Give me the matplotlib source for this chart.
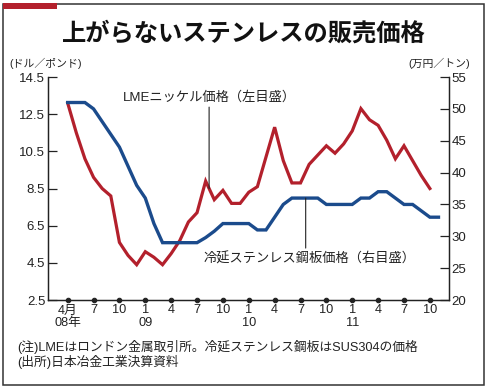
import numpy as np
import matplotlib
matplotlib.use('Agg')
import matplotlib.pyplot as plt
from matplotlib.patches import Rectangle

# ---- data (monthly, Apr 2008 = month 0) ----
nickel = [13.1, 11.5, 10.1, 9.1, 8.5, 8.1, 5.6, 4.9, 4.4, 5.1, 4.8, 4.4,
          5.0, 5.7, 6.7, 7.2, 8.9, 7.9, 8.4, 7.7, 7.7, 8.3, 8.6, 10.2,
          11.8, 10.0, 8.8, 8.8, 9.8, 10.3, 10.8, 10.4, 10.9, 11.6, 12.8, 12.2,
          11.9, 11.1, 10.1, 10.8, 10.0, 9.2, 8.5]
steel = [51, 51, 51, 50, 48, 46, 44, 41, 38, 36, 32, 29,
         29, 29, 29, 29, 29.8, 30.8, 32, 32, 32, 32, 31, 31,
         33, 35, 36, 36, 36, 36, 35, 35, 35, 35, 36, 36,
         37, 37, 36, 35, 35, 34, 33, 33]
tick_months = list(range(0, 43, 3))
tick_labels = ['4月\n08年', '7', '10', '1\n09', '4', '7', '10', '1\n10',
               '4', '7', '10', '1\n11', '4', '7', '10']
left_ticks = [2.5, 4.5, 6.5, 8.5, 10.5, 12.5, 14.5]
right_ticks = [20, 25, 30, 35, 40, 45, 50, 55]

title = '上がらないステンレスの販売価格'
nickel_label = 'LMEニッケル価格（左目盛）'
steel_label = '冷延ステンレス鋼板価格（右目盛）'
left_unit = '(ドル／ポンド)'
right_unit = '(万円／トン)'
note1 = '(注)LMEはロンドン金属取引所。冷延ステンレス鋼板はSUS304の価格'
note2 = '(出所)日本冶金工業決算資料'

RED = '#b3202c'
BLUE = '#1b4b8c'
DARK = '#222222'

plt.rcParams['font.family'] = ['Liberation Sans', 'Noto Sans CJK JP']

fig = plt.figure(figsize=(4.9, 3.91), dpi=100)
ax = fig.add_axes([0.098, 0.2327, 0.818, 0.5703])
ax2 = ax.twinx()

m_n = np.arange(len(nickel))
m_s = np.arange(len(steel))
ax.plot(m_n, nickel, color=RED, lw=2.3, solid_joinstyle='miter')
ax2.plot(m_s, steel, color=BLUE, lw=2.4, solid_joinstyle='miter')

ax.set_xlim(-2.28, 44.2)
ax.set_ylim(2.5, 14.5)
ax2.set_ylim(20, 55)

for a in (ax, ax2):
    a.spines['top'].set_visible(False)
    for s in a.spines.values():
        s.set_linewidth(0.9)
        s.set_color(DARK)

ax.set_yticks(left_ticks)
ax.set_yticklabels([f'{v:.1f}' for v in left_ticks])
ax2.set_yticks(right_ticks)
ax2.set_yticklabels([str(v) for v in right_ticks])
ax.tick_params(axis='y', direction='in', length=6.5, width=0.9, pad=2,
               labelsize=9.5, colors=DARK)
ax2.tick_params(axis='y', direction='in', length=6.5, width=0.9, pad=2,
                labelsize=9.5, colors=DARK)

ax.set_xticks(tick_months)
ax.set_xticklabels(tick_labels, fontsize=9.2, linespacing=1.1)
ax.tick_params(axis='x', length=0, pad=3.2, colors=DARK)
for t in ax.xaxis.get_major_ticks():
    t.tick1line.set_marker('o')
    t.tick1line.set_markersize(3.2)
    t.tick1line.set_markerfacecolor(DARK)
    t.tick1line.set_markeredgecolor(DARK)

# labels with leader lines
ax.text(0.187, 0.910, nickel_label, transform=ax.transAxes,
        ha='left', va='center', fontsize=9.5, color=DARK)
xn = 16.4
ax.annotate('', xy=(xn, float(np.interp(xn, m_n, nickel))),
            xytext=(xn, 0.865), textcoords=('data', 'axes fraction'),
            arrowprops=dict(arrowstyle='-', color=DARK, lw=0.8,
                            shrinkA=0, shrinkB=0))
ax.text(0.389, 0.184, steel_label, transform=ax.transAxes,
        ha='left', va='center', fontsize=9.5, color=DARK)
xs = 27.6
ax2.annotate('', xy=(xs, float(np.interp(xs, m_s, steel))),
             xytext=(xs, 0.233), textcoords=('data', 'axes fraction'),
             arrowprops=dict(arrowstyle='-', color=DARK, lw=0.8,
                             shrinkA=0, shrinkB=0))

# titles / units / notes
fig.text(0.497, 0.914, title, ha='center', va='center', fontsize=17.5,
         fontweight='bold', family=['Noto Sans CJK JP'], color='#111111')
fig.text(0.02, 0.839, left_unit, ha='left', va='center', fontsize=7.8, color=DARK)
fig.text(0.959, 0.839, right_unit, ha='right', va='center', fontsize=7.8, color=DARK)
fig.text(0.035, 0.1125, note1, ha='left', va='center', fontsize=9.2, color=DARK)
fig.text(0.035, 0.074, note2, ha='left', va='center', fontsize=9.2, color=DARK)

# frame and red bar
fig.add_artist(Rectangle((0.0065, 0.0153), 0.982, 0.974, transform=fig.transFigure,
                         fill=False, lw=1.1, ec='#333333'))
fig.add_artist(Rectangle((0.0065, 0.978), 0.11, 0.0145, transform=fig.transFigure,
                         fc=RED, ec='none'))

fig.savefig('out.png', dpi=100)
